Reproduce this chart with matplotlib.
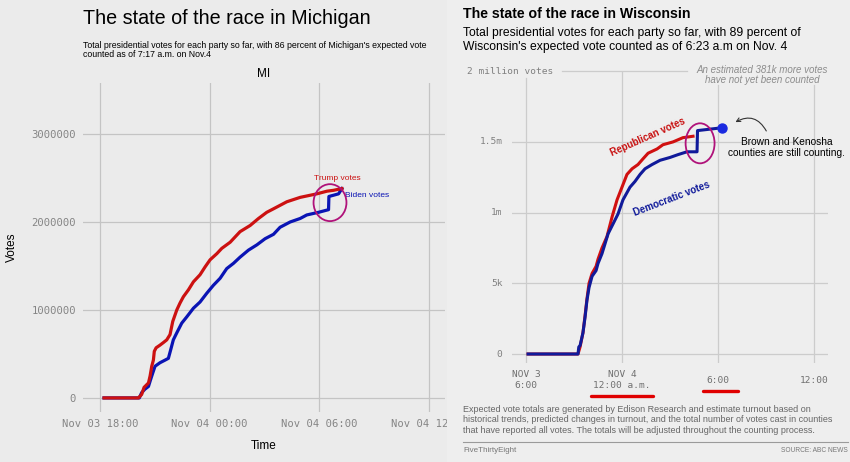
import pandas as pd
import matplotlib
matplotlib.use("Agg")
import matplotlib.pyplot as plt
import matplotlib.dates as mdates
from matplotlib.patches import Ellipse, Rectangle, FancyArrowPatch
from matplotlib.ticker import FuncFormatter

# --- Michigan: hours after Nov 3 18:00, votes in millions ---
mi_trump_h = [0.22, 2.10, 2.28, 2.41, 2.65, 2.74, 2.83, 2.92, 2.97, 3.07, 3.28, 3.47,
              3.65, 3.83, 3.98, 4.20, 4.38, 4.56, 4.84, 5.11, 5.47, 5.75, 6.02, 6.39,
              6.66, 7.12, 7.66, 8.21, 8.67, 9.12, 9.49, 10.22, 10.95, 11.86, 12.41,
              12.77, 13.23]
mi_trump_v = [0, 0, 0.04, 0.12, 0.17, 0.25, 0.36, 0.43, 0.53, 0.57, 0.60, 0.63,
              0.66, 0.72, 0.87, 1.00, 1.08, 1.15, 1.23, 1.32, 1.40, 1.49, 1.57, 1.64,
              1.70, 1.77, 1.89, 1.96, 2.04, 2.11, 2.15, 2.23, 2.28, 2.32, 2.35,
              2.36, 2.38]
mi_biden_h = [0.22, 2.15, 2.28, 2.46, 2.65, 2.77, 2.88, 3.01, 3.28, 3.56, 3.74, 3.87,
              4.01, 4.20, 4.47, 4.74, 5.11, 5.47, 5.84, 6.20, 6.57, 6.93, 7.30, 7.66,
              8.12, 8.58, 9.03, 9.49, 9.85, 10.40, 10.95, 11.31, 11.95, 12.50, 12.52,
              13.05, 13.23]
mi_biden_v = [0, 0, 0.06, 0.10, 0.13, 0.21, 0.28, 0.36, 0.40, 0.43, 0.45, 0.55,
              0.66, 0.74, 0.85, 0.92, 1.02, 1.09, 1.19, 1.28, 1.36, 1.47, 1.53, 1.60,
              1.68, 1.74, 1.81, 1.86, 1.94, 2.00, 2.04, 2.08, 2.11, 2.14, 2.29,
              2.32, 2.38]
mi_yticks = [0, 1000000, 2000000, 3000000]

# --- Wisconsin: hours after Nov 3 18:00, votes in millions ---
wi_dem_h = [0.13, 3.25, 3.30, 3.38, 3.56, 3.69, 3.81, 3.94, 4.13, 4.38, 4.50, 4.75, 4.94,
            5.13, 5.44, 5.75, 6.06, 6.50, 6.81, 7.13, 7.44, 7.88, 8.38, 9.00, 9.50,
            10.06, 10.69, 10.72, 12.25]
wi_dem_v = [0, 0, 0.05, 0.06, 0.15, 0.26, 0.38, 0.47, 0.55, 0.59, 0.64, 0.71, 0.78,
            0.85, 0.92, 0.99, 1.09, 1.18, 1.22, 1.27, 1.31, 1.34, 1.37, 1.39, 1.41,
            1.43, 1.43, 1.58, 1.60]
wi_rep_h = [0.13, 3.25, 3.38, 3.56, 3.69, 3.81, 3.94, 4.13, 4.38, 4.50, 4.75, 5.06,
            5.38, 5.69, 6.00, 6.31, 6.63, 7.00, 7.31, 7.63, 8.19, 8.56, 9.19, 9.81,
            10.44]
wi_rep_v = [0, 0, 0.05, 0.15, 0.27, 0.39, 0.50, 0.57, 0.62, 0.67, 0.75, 0.83,
            0.97, 1.09, 1.18, 1.27, 1.31, 1.34, 1.38, 1.42, 1.45, 1.48, 1.50, 1.53,
            1.54]
wi_yticks = [0, 0.5, 1.0, 1.5]
wi_ylabels = ["0", "5k", "1m", "1.5m"]
wi_xticks = [0, 6, 12, 18]
wi_xlabels = ["NOV 3\n6:00", "NOV 4\n12:00 a.m.", "6:00", "12:00"]

W, H = 850, 462
def fx(px):
    return px / W
def fy(py):
    return 1 - py / H

t0 = pd.Timestamp("2020-11-03 18:00")
def to_time(hours):
    return t0 + pd.to_timedelta(hours, unit="h")

fig = plt.figure(figsize=(8.5, 4.62), dpi=100, facecolor="#ebebeb")

# ---------------- Michigan panel ----------------
ax1 = fig.add_axes([fx(83), fy(412), (445 - 83) / W, (412 - 83) / H])
ax1.set_facecolor("#ebebeb")
ax1.plot(to_time(mi_biden_h), [v * 1e6 for v in mi_biden_v],
         color="#0a14b4", lw=2.3, zorder=3)
ax1.plot(to_time(mi_trump_h), [v * 1e6 for v in mi_trump_v],
         color="#cc1111", lw=2.3, zorder=4)
ax1.set_xlim(to_time(-0.93), to_time(18.87))
ax1.set_ylim(-0.16e6, 3.58e6)
ax1.xaxis.set_major_locator(mdates.HourLocator(byhour=[0, 6, 12, 18]))
ax1.xaxis.set_major_formatter(mdates.DateFormatter("%b %d %H:%M"))
ax1.set_yticks(mi_yticks)
ax1.yaxis.set_major_formatter(FuncFormatter(lambda x, p: f"{x:.0f}"))
ax1.grid(True, color="#c4c4c4", lw=0.9)
ax1.set_axisbelow(True)
for s in ax1.spines.values():
    s.set_visible(False)
ax1.tick_params(length=0, labelsize=7.6, labelcolor="#858585", pad=5)
for lbl in ax1.get_xticklabels() + ax1.get_yticklabels():
    lbl.set_family("DejaVu Sans Mono")
ax1.set_xlabel("Time", fontsize=8.5, family="Liberation Sans", labelpad=8)
ax1.set_ylabel("Votes", fontsize=8.5, family="Liberation Sans", labelpad=10)
ax1.set_title("MI", fontsize=8.5, family="Liberation Sans", pad=4)

ax1.text(to_time(12.98), 2.5e6, "Trump votes", color="#cc1111", fontsize=6,
         family="Liberation Sans", ha="center", va="center")
ax1.text(to_time(13.4), 2.3e6, "Biden votes", color="#0a14b4", fontsize=6,
         family="Liberation Sans", ha="left", va="center")
ax1.add_patch(Ellipse((mdates.date2num(to_time(12.58)), 2.22e6), 1.8 / 24, 0.42e6,
                      fill=False, ec="#b0127a", lw=1.3, zorder=5))

fig.text(fx(83), fy(18), "The state of the race in Michigan", fontsize=14.2,
         family="Liberation Sans", va="center", ha="left")
fig.text(fx(83), fy(50),
         "Total presidential votes for each party so far, with 86 percent of Michigan's expected vote\n"
         "counted as of 7:17 a.m. on Nov.4",
         fontsize=6.3, family="Liberation Sans", va="center", ha="left", linespacing=0.95)

# ---------------- Wisconsin panel ----------------
fig.add_artist(Rectangle((fx(447), 0), 1 - fx(447), 1, transform=fig.transFigure,
                         facecolor="#eeeeee", edgecolor="none", zorder=1))

ax2 = fig.add_axes([fx(512), fy(363), (828 - 512) / W, (363 - 68) / H])
ax2.set_zorder(2)
ax2.set_facecolor("none")
ax2.set_xlim(-0.875, 18.875)
ax2.set_ylim(-0.0636, 2.0226)
for s in ax2.spines.values():
    s.set_visible(False)
ax2.set_xticks([])
ax2.set_yticks([])

grid_c = "#cccccc"
vtops = [0.966, 0.986, 0.942, 0.942]
for h, top in zip(wi_xticks, vtops):
    ax2.axvline(h, ymin=0, ymax=top, color=grid_c, lw=0.9, zorder=0)
for v, lab in zip(wi_yticks, wi_ylabels):
    ax2.axhline(v, color=grid_c, lw=0.9, zorder=0)
    ax2.text(-0.03, v, lab, transform=ax2.get_yaxis_transform(), ha="right",
             va="center", fontsize=6.8, color="#808080", family="DejaVu Sans Mono")
ax2.axhline(2.0, xmin=0.158, xmax=0.554, color=grid_c, lw=0.9, zorder=0)
ax2.text(-0.143, 2.0, "2 million votes", transform=ax2.get_yaxis_transform(),
         ha="left", va="center", fontsize=6.8, color="#808080", family="DejaVu Sans Mono")
for h, lab in zip(wi_xticks, wi_xlabels):
    ax2.text(h, -0.058, lab, transform=ax2.get_xaxis_transform(), ha="center",
             va="center", fontsize=6.8, color="#707070", family="DejaVu Sans Mono",
             linespacing=1.3)
# red underlines under two tick labels
ax2.plot([6 - 1.94, 6 + 1.94], [-0.112, -0.112], transform=ax2.get_xaxis_transform(),
         color="#e00000", lw=2.4, clip_on=False, solid_capstyle="round")
ax2.plot([12.16 - 1.09, 12.16 + 1.09], [-0.095, -0.095], transform=ax2.get_xaxis_transform(),
         color="#e00000", lw=2.4, clip_on=False, solid_capstyle="round")

ax2.plot(wi_rep_h, wi_rep_v, color="#d01010", lw=2.2, zorder=3)
ax2.plot(wi_dem_h, wi_dem_v, color="#101a9a", lw=2.2, zorder=4)
ax2.plot(wi_dem_h[-1], wi_dem_v[-1], "o", color="#1a2ae0", ms=6.5, zorder=5)

ax2.text(7.63, 1.535, "Republican votes", color="#c81010", fontsize=7, weight="bold",
         family="Liberation Sans", rotation=24, ha="center", va="center")
ax2.text(9.13, 1.10, "Democratic votes", color="#101a9a", fontsize=7, weight="bold",
         family="Liberation Sans", rotation=21, ha="center", va="center")
ax2.add_patch(Ellipse((10.88, 1.49), 1.81, 0.283, fill=False, ec="#b0127a", lw=1.3, zorder=6))
ax2.text(16.3, 1.46, "Brown and Kenosha\ncounties are still counting.", fontsize=7.3,
         family="Liberation Sans", ha="center", va="center", linespacing=1.1)
ax2.add_patch(FancyArrowPatch((15.1, 1.56), (12.94, 1.63), connectionstyle="arc3,rad=0.55",
                              arrowstyle="->", mutation_scale=7, lw=0.8, color="#333333"))
ax2.text(18.875, 1.97, "An estimated 381k more votes\nhave not yet been counted",
         fontsize=7, style="italic", color="#8c8c8c", family="Liberation Sans",
         ha="right", va="center", multialignment="center", linespacing=1.0)

fig.text(fx(463), fy(14), "The state of the race in Wisconsin", fontsize=10.2,
         weight="bold", family="Liberation Sans", va="center", ha="left")
fig.text(fx(463), fy(40),
         "Total presidential votes for each party so far, with 89 percent of\n"
         "Wisconsin's expected vote counted as of 6:23 a.m on Nov. 4",
         fontsize=8.7, family="Liberation Sans", va="center", ha="left", linespacing=1.15)
fig.text(fx(463), fy(420),
         "Expected vote totals are generated by Edison Research and estimate turnout based on\n"
         "historical trends, predicted changes in turnout, and the total number of votes cast in counties\n"
         "that have reported all votes. The totals will be adjusted throughout the counting process.",
         fontsize=6.5, color="#666666", family="Liberation Sans", va="center", ha="left",
         linespacing=1.15)
fig.add_artist(plt.Line2D([fx(463), fx(848)], [fy(442), fy(442)], transform=fig.transFigure,
                          color="#9a9a9a", lw=0.8, zorder=3))
fig.text(fx(463), fy(451), "FiveThirtyEight", fontsize=5.8, color="#777777",
         family="Liberation Sans", va="center", ha="left")
fig.text(fx(848), fy(451), "SOURCE: ABC NEWS", fontsize=4.8, color="#777777",
         family="Liberation Sans", va="center", ha="right")

fig.savefig("out.png", dpi=100, facecolor=fig.get_facecolor())
